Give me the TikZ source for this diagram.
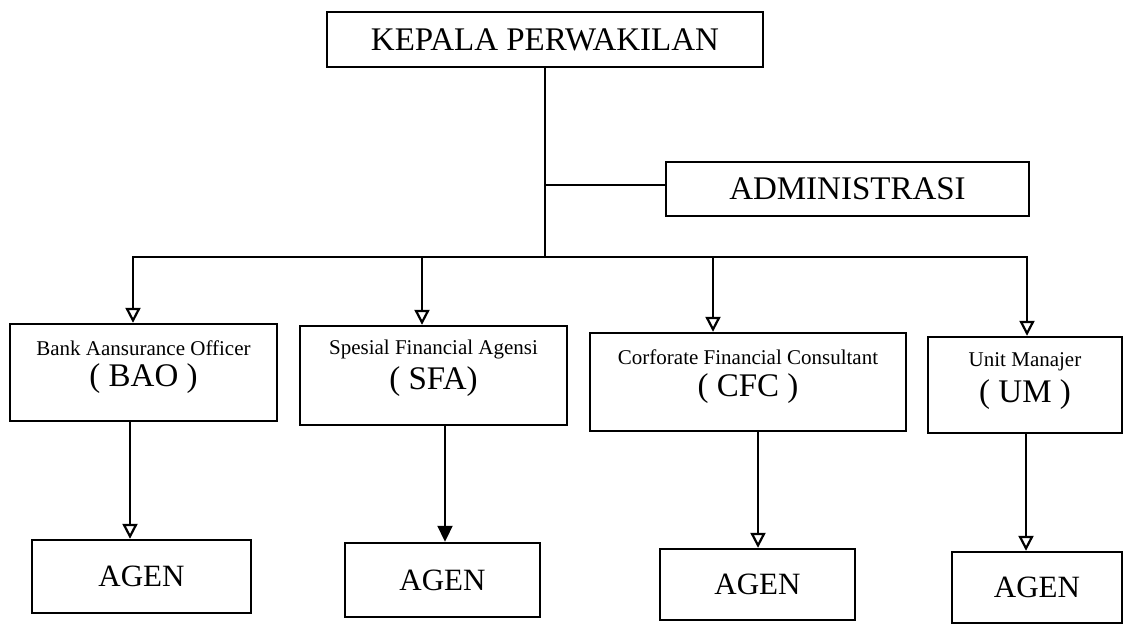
\documentclass[tikz,border=0pt]{standalone}
\usepackage{fontspec}
\setmainfont{Liberation Serif}
\usetikzlibrary{arrows.meta}
\begin{document}
\begin{tikzpicture}[x=1pt,y=-1pt,
  boxnode/.style={draw,line width=2.4pt,inner sep=0pt},
  bigtxt/.style={font=\fontsize{33}{40}\selectfont},
  agtxt/.style={font=\fontsize{31}{38}\selectfont},
  smalltxt/.style={font=\fontsize{21}{25}\selectfont},
  conn/.style={line width=1.9pt},
  openarr/.style={conn,-{Triangle[open,length=15pt,width=15pt,line width=2.2pt]}},
  fillarr/.style={conn,-{Triangle[length=16pt,width=15pt]}}]
\useasboundingbox (0,0) rectangle (1123,624);

% top level
\node[boxnode,bigtxt,minimum width=436pt,minimum height=55pt] (kepala) at (545,39.5) {KEPALA PERWAKILAN};
\node[boxnode,bigtxt,minimum width=363pt,minimum height=54pt] (admin) at (847.5,189) {ADMINISTRASI};

% second level boxes
\node[boxnode,minimum width=267pt,minimum height=97pt] (bao) at (143.5,372.5) {};
\node[smalltxt] (baoa) at ([yshift=-25pt]bao.north) {Bank Aansurance Officer};
\node[bigtxt] (baob) at ([yshift=-56pt]bao.north) {( BAO )};

\node[boxnode,minimum width=267pt,minimum height=99pt] (sfa) at (433.5,375.5) {};
\node[smalltxt] (sfaa) at ([yshift=-25pt]sfa.north) {Spesial Financial Agensi};
\node[bigtxt] (sfab) at ([yshift=-57pt]sfa.north) {( SFA)};

\node[boxnode,minimum width=316pt,minimum height=98pt] (cfc) at (748,382) {};
\node[smalltxt] (cfca) at ([yshift=-25pt]cfc.north) {Corforate Financial Consultant};
\node[bigtxt] (cfcb) at ([yshift=-57pt]cfc.north) {( CFC )};

\node[boxnode,minimum width=194pt,minimum height=96pt] (um) at (1025,385) {};
\node[smalltxt] (uma) at ([yshift=-26pt]um.north) {Unit Manajer};
\node[bigtxt] (umb) at ([yshift=-59pt]um.north) {( UM )};

% agents
\node[boxnode,agtxt,minimum width=219pt,minimum height=73pt] (ag1) at (141.5,576.5) {AGEN};
\node[boxnode,agtxt,minimum width=195pt,minimum height=74pt] (ag2) at (442.5,580) {AGEN};
\node[boxnode,agtxt,minimum width=195pt,minimum height=71pt] (ag3) at (757.5,584.5) {AGEN};
\node[boxnode,agtxt,minimum width=170pt,minimum height=71pt] (ag4) at (1037,587.5) {AGEN};

% trunk
\coordinate (jadm) at (545,185);
\coordinate (jbr) at (545,257);
\draw[conn] (kepala.south) -- (jbr);
\draw[conn] (jadm) -- (jadm -| admin.west);

% branch line
\coordinate (b1) at (133,257);
\coordinate (b2) at (422,257);
\coordinate (b3) at (713,257);
\coordinate (b4) at (1027,257);
\draw[conn,line cap=rect] (b1) -- (b4);
\draw[openarr] (b1) -- (b1 |- bao.north);
\draw[openarr] (b2) -- (b2 |- sfa.north);
\draw[openarr] (b3) -- (b3 |- cfc.north);
\draw[openarr] (b4) -- (b4 |- um.north);

% down to agents
\coordinate (d1) at ([xshift=-13.5pt]bao.south);
\coordinate (d2) at ([xshift=11.5pt]sfa.south);
\coordinate (d3) at ([xshift=10pt]cfc.south);
\coordinate (d4) at ([xshift=1pt]um.south);
\draw[openarr] (d1) -- (d1 |- ag1.north);
\draw[fillarr] (d2) -- (d2 |- ag2.north);
\draw[openarr] (d3) -- (d3 |- ag3.north);
\draw[openarr] (d4) -- (d4 |- ag4.north);
\end{tikzpicture}
\end{document}
